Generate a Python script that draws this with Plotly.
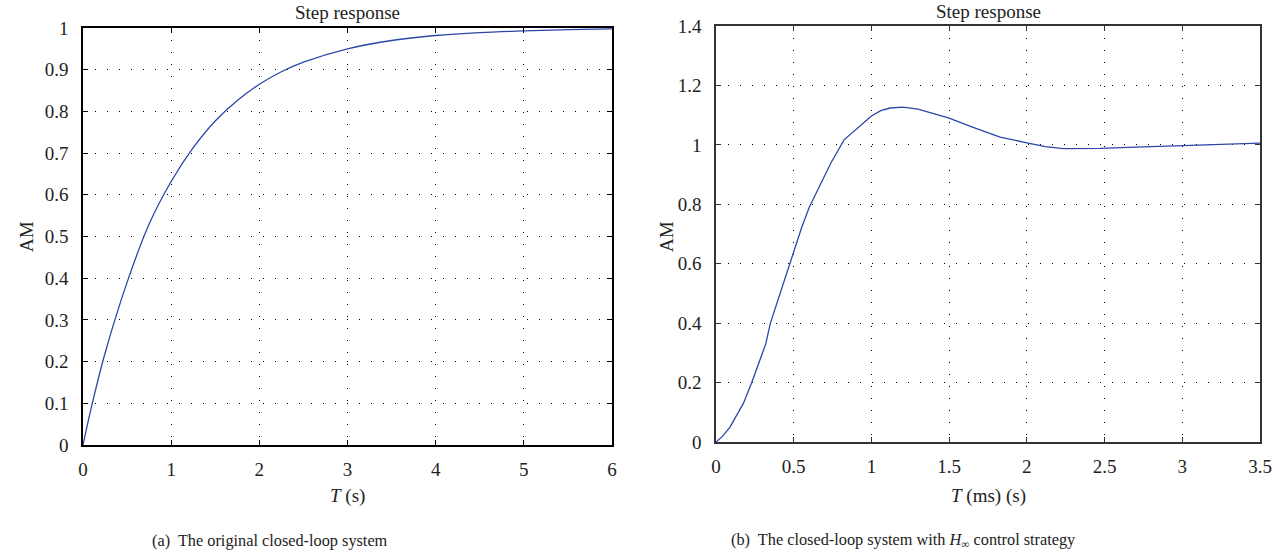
import plotly.graph_objects as go

# Left: original closed-loop system step response
t_a = [0, 0.1, 0.25, 0.5, 0.75, 1.0, 1.25, 1.5, 1.75, 2.0, 2.25, 2.5, 3.0, 3.5, 4.0, 4.5, 5.0, 5.5, 6.0]
v_a = [0, 0.095, 0.22, 0.39, 0.53, 0.632, 0.713, 0.777, 0.826, 0.865, 0.895, 0.918, 0.950, 0.970, 0.982, 0.989, 0.993, 0.996, 0.998]

# Right: closed-loop system with H-infinity control
t_b = [0, 0.04, 0.09, 0.13, 0.176, 0.23, 0.32, 0.35, 0.42, 0.49, 0.55, 0.6, 0.665, 0.74, 0.824,
       0.92, 1.0, 1.06, 1.12, 1.2, 1.3, 1.4, 1.5, 1.65, 1.828, 2.0, 2.12, 2.235, 2.47, 2.75, 3.01, 3.25, 3.5]
v_b = [0, 0.018, 0.05, 0.085, 0.13, 0.2, 0.33, 0.40, 0.51, 0.62, 0.72, 0.79, 0.86, 0.94, 1.017,
       1.06, 1.097, 1.115, 1.124, 1.127, 1.12, 1.105, 1.09, 1.06, 1.026, 1.007, 0.994, 0.987, 0.988, 0.993, 0.998, 1.002, 1.006]

xticks_a = [0, 1, 2, 3, 4, 5, 6]
yticks_a = [0, 0.1, 0.2, 0.3, 0.4, 0.5, 0.6, 0.7, 0.8, 0.9, 1]
xticks_b = [0, 0.5, 1, 1.5, 2, 2.5, 3, 3.5]
yticks_b = [0, 0.2, 0.4, 0.6, 0.8, 1, 1.2, 1.4]
xlabels_b = ["0", "0.5", "1", "1.5", "2", "2.5", "3", "3.5"]
ylabels_b = ["0", "0.2", "0.4", "0.6", "0.8", "1", "1.2", "1.4"]

FONT = "Liberation Serif"
W, H = 1284, 557
LINE = "#2d47a8"
TXT = "#222"

fig = go.Figure()
fig.add_trace(go.Scatter(x=t_a, y=v_a, mode="lines", line=dict(color=LINE, width=1.3, shape="spline"),
                         xaxis="x", yaxis="y", showlegend=False))
fig.add_trace(go.Scatter(x=t_b, y=v_b, mode="lines", line=dict(color=LINE, width=1.3),
                         xaxis="x2", yaxis="y2", showlegend=False))

def px_x(p):
    return p / W

def px_y(p):
    return 1 - p / H

def axis_common(lc):
    return dict(showline=True, mirror="ticks", linecolor=lc, linewidth=1.6,
                ticks="inside", ticklen=5, tickcolor=lc, automargin=False,
                showgrid=True, gridcolor="black", gridwidth=1, griddash="1px,11px",
                zeroline=False, tickfont=dict(family=FONT, size=19, color=TXT))

fig.update_layout(
    width=W, height=H, margin=dict(l=0, r=0, t=0, b=0, autoexpand=False),
    paper_bgcolor="white", plot_bgcolor="white",
    font=dict(family=FONT, color=TXT),
    xaxis=dict(domain=[px_x(83), px_x(612)], range=[0, 6], tickvals=xticks_a, anchor="y", **axis_common("black")),
    yaxis=dict(domain=[px_y(445), px_y(28)], range=[0, 1], tickvals=yticks_a, anchor="x", **axis_common("black")),
    xaxis2=dict(domain=[px_x(716), px_x(1260)], range=[0, 3.5], tickvals=xticks_b,
                ticktext=xlabels_b, anchor="y2", **axis_common("#333")),
    yaxis2=dict(domain=[px_y(442), px_y(26)], range=[0, 1.4], tickvals=yticks_b,
                ticktext=ylabels_b, anchor="x2", **axis_common("#333")),
)
fig.update_xaxes(ticklabelstandoff=6)
fig.update_yaxes(ticklabelstandoff=9)

ann = []
def add(text, x, y, size=17, angle=0):
    ann.append(dict(text=text, x=px_x(x), y=px_y(y), xref="paper", yref="paper", showarrow=False,
                    font=dict(family=FONT, size=size, color=TXT), textangle=angle,
                    xanchor="center", yanchor="middle"))

add("Step response", 347, 12, 19)
add("Step response", 988, 11, 19)
add("<i>T</i> (s)", 347, 496, 19)
add("<i>T</i> (ms) (s)", 988, 496, 19)
add("AM", 26, 237, 19, -90)
add("AM", 666, 237, 19, -90)
add("(a)  The original closed-loop system", 270, 540, 16.3)
add("(b)  The closed-loop system with <i>H</i><sub>∞</sub> control strategy", 903, 540, 16.3)
fig.update_layout(annotations=ann)

fig.write_html("out.html", config={"displayModeBar": False},
               post_script="document.body.style.margin='0';document.body.style.overflow='hidden';")
